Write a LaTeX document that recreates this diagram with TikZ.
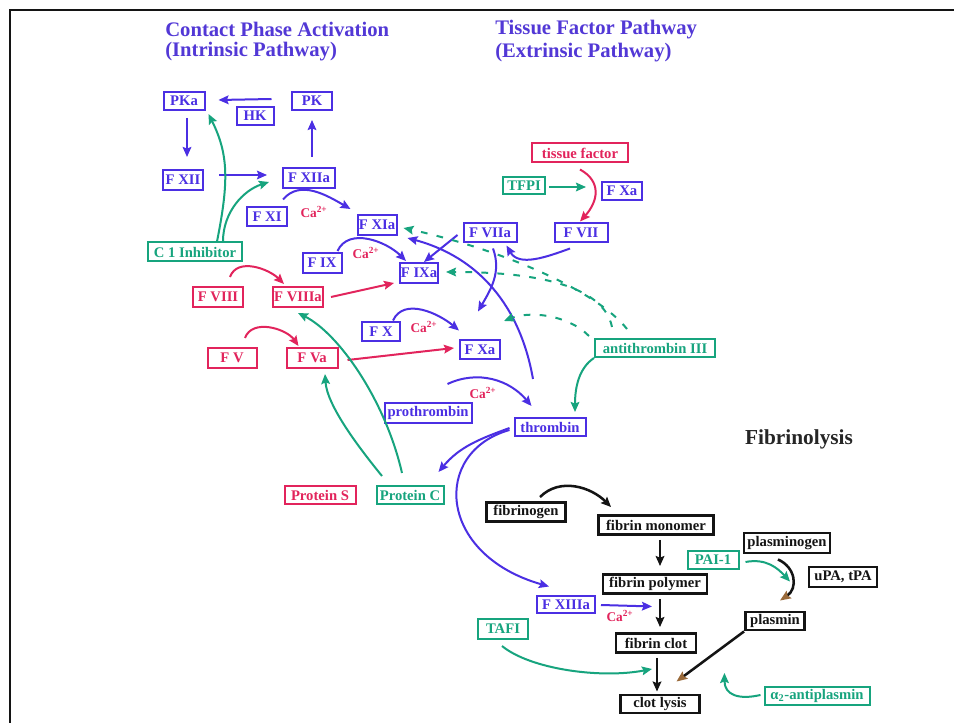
\documentclass[tikz,border=0pt]{standalone}
\usepackage{fontspec}
\setmainfont{Liberation Serif}
\usetikzlibrary{arrows.meta,calc}
\definecolor{cblue}{HTML}{4B2FE3}
\definecolor{ctitle}{HTML}{5238D6}
\definecolor{cred}{HTML}{E2245C}
\definecolor{cgreen}{HTML}{17A47E}
\definecolor{cblack}{HTML}{141414}
\definecolor{cbrown}{HTML}{9A6A3A}
\begin{document}
\begin{tikzpicture}[x=0.75pt,y=-0.75pt,
  box/.style={draw,line width=1.5pt,inner sep=0pt,minimum height=14.25pt,font=\fontsize{11}{12}\selectfont\bfseries},
  bw/.style={minimum width=#1*0.75pt},
  bh/.style={minimum height=#1*0.75pt},
  bluebox/.style={box,draw=cblue,text=cblue},
  redbox/.style={box,draw=cred,text=cred},
  greenbox/.style={box,draw=cgreen,text=cgreen},
  blackbox/.style={box,draw=cblack,text=cblack,line width=2.2pt},
  calabel/.style={inner sep=0pt,text=cred,font=\fontsize{10}{10}\selectfont\bfseries},
  title/.style={anchor=west,inner sep=0pt,text=ctitle,font=\fontsize{15.5}{15.5}\selectfont\bfseries},
  tipA/.style={-{Stealth[length=7.5pt,width=6.5pt,inset=1.2pt]}},
  barrow/.style={tipA,draw=cblue,line width=1.5pt},
  rarrow/.style={tipA,draw=cred,line width=1.5pt},
  garrow/.style={tipA,draw=cgreen,line width=1.5pt},
  gdash/.style={garrow,dash pattern=on 5pt off 7pt},
  karrow/.style={tipA,draw=cblack,line width=1.9pt},
  brarrow/.style={-{Stealth[length=8pt,width=6.5pt,inset=1.2pt,color=cbrown]},draw=cblack,line width=1.9pt}
]
\useasboundingbox (0,0) rectangle (954,723);
\fill[white] (0,0) rectangle (954,723);
\draw[cblack,line width=2pt] (954,10) -- (10,10) -- (10,723);

% titles
\node[title] (t1a) at (165,29) {Contact Phase Activation};
\node[title] (t1b) at (165,52) {(Intrinsic Pathway)};
\node[title] (t2a) at (495,30) {Tissue Factor Pathway};
\node[title] (t2b) at (495,53) {(Extrinsic Pathway)};
\node[inner sep=0pt,text=black!85,font=\fontsize{16}{16}\selectfont\bfseries] (fibrinolysis) at (799,439) {Fibrinolysis};

% blue nodes
\node[bluebox,bw=41,bh=18] (PKa) at (184,101) {PKa};
\node[bluebox,bw=37,bh=18] (HK) at (255,116) {HK};
\node[bluebox,bw=40,bh=18] (PK) at (312,101) {PK};
\node[bluebox,bw=40,bh=20] (FXII) at (183,180) {F XII};
\node[bluebox,bw=52,bh=20] (FXIIa) at (309,178) {F XIIa};
\node[bluebox,bw=40,bh=19] (FXI) at (267,217) {F XI};
\node[bluebox,bw=39,bh=20] (FXIa) at (377,225) {F XIa};
\node[bluebox,bw=39,bh=20] (FIX) at (322,263) {F IX};
\node[bluebox,bw=38,bh=20] (FIXa) at (419,273) {F IXa};
\node[bluebox,bw=53,bh=19] (FVIIa) at (490,233) {F VIIa};
\node[bluebox,bw=53,bh=19] (FVII) at (581,233) {F VII};
\node[bluebox,bw=40,bh=18] (FXae) at (622,191) {F Xa};
\node[bluebox,bw=38,bh=19] (FX) at (381,332) {F X};
\node[bluebox,bw=40,bh=19] (FXa) at (480,350) {F Xa};
\node[bluebox,bw=87,bh=20] (prothrombin) at (428,413) {prothrombin};
\node[bluebox,bw=71,bh=18] (thrombin) at (550,427) {thrombin};
\node[bluebox,bw=58,bh=17] (FXIIIa) at (566,605) {F XIIIa};

% red nodes
\node[redbox,bw=96,bh=19] (tf) at (580,153) {tissue factor};
\node[redbox,bw=50,bh=20] (FVIII) at (218,297) {F VIII};
\node[redbox,bw=50,bh=20] (FVIIIa) at (298,297) {F VIIIa};
\node[redbox,bw=49,bh=20] (FV) at (232,358) {F V};
\node[redbox,bw=51,bh=20] (FVa) at (312,358) {F Va};
\node[redbox,bw=71,bh=18] (ProteinS) at (320,495) {Protein S};

% green nodes
\node[greenbox,bw=42,bh=17] (TFPI) at (524,186) {TFPI};
\node[greenbox,bw=94,bh=19] (C1) at (195,252) {C 1 Inhibitor};
\node[greenbox,bw=120,bh=18] (AT) at (655,348) {antithrombin III};
\node[greenbox,bw=67,bh=18] (ProteinC) at (410,495) {Protein C};
\node[greenbox,bw=50,bh=20] (TAFI) at (503,629) {TAFI};
\node[greenbox,bw=51,bh=18] (PAI) at (713,560) {PAI-1};
\node[greenbox,bw=105,bh=18] (alpha) at (817,696) {α\textsubscript{2}-antiplasmin};

% black nodes
\node[blackbox,bw=79,bh=19] (fibrinogen) at (526,512) {fibrinogen};
\node[blackbox,bw=115,bh=19] (fibrinmonomer) at (656,525) {fibrin monomer};
\node[blackbox,bw=86,bh=20] (plasminogen) at (787,543) {plasminogen};
\node[blackbox,bw=68,bh=20] (uPA) at (843,577) {uPA, tPA};
\node[blackbox,bw=104,bh=19] (fibrinpolymer) at (655,584) {fibrin polymer};
\node[blackbox,bw=59,bh=18] (plasmin) at (775,621) {plasmin};
\node[blackbox,bw=80,bh=19] (fibrinclot) at (656,643) {fibrin clot};
\node[blackbox,bw=79,bh=18] (clotlysis) at (660,704) {clot lysis};

% Ca labels
\node[calabel] (ca1) at (314,212) {Ca\textsuperscript{2+}};
\node[calabel] (ca2) at (366,253) {Ca\textsuperscript{2+}};
\node[calabel] (ca3) at (424,327) {Ca\textsuperscript{2+}};
\node[calabel] (ca4) at (483,393) {Ca\textsuperscript{2+}};
\node[calabel] (ca5) at (620,616) {Ca\textsuperscript{2+}};

% blue connectors
\draw[barrow] ($(HK.north east)+(-3,-7)$) -- ($(PKa.east)+(13,-1)$);
\draw[barrow] ($(PKa.south)+(3,7)$) -- ($(FXII.north)+(4,-12)$);
\draw[barrow] ($(FXII.east)+(15,-5)$) -- ($(FXIIa.west)+(-15,-3)$);
\draw[barrow] ($(FXIIa.north)+(3,-10)$) -- ($(PK.south)+(0,9)$);
\draw[barrow] ($(FXI.north east)+(-5,-7)$) to[out=50,in=150] ($(FXIa.north west)+(-6,-5)$);
\draw[barrow] ($(FIX.north east)+(-5,-1)$) to[out=65,in=135] ($(FIXa.north west)+(7,-1)$);
\draw[barrow] ($(FX.north east)+(-8,-1)$) to[out=65,in=140] ($(FXa.north west)+(0,-9)$);
\draw[barrow] ($(prothrombin.north east)+(-25,-18)$) to[out=25,in=130] ($(thrombin.north west)+(18,-11)$);
\draw[barrow] ($(FVII.south)+(-11,5)$) to[out=200,in=-60] ($(FVIIa.south east)+(-11,2)$);
\draw[barrow] ($(FVIIa.west)+(-5,2)$) -- ($(FIXa.north east)+(-15,0)$);
\draw[barrow] ($(FVIIa.south)+(3,5)$) to[out=-70,in=60] ($(FXa.north)+(-2,-28)$);
\draw[barrow] ($(thrombin.north)+(-17,-38)$) to[out=100,in=-15] ($(FXIa.south east)+(10,2)$);
\draw[barrow] ($(thrombin.west)+(-4,1)$) to[out=200,in=50] ($(ProteinC.north east)+(-6,-13)$);
\draw[barrow] ($(thrombin.west)+(-4,3)$) .. controls +(-78,22) and +(-112,-32) .. ($(FXIIIa.north west)+(13,-9)$);
\draw[barrow] ($(FXIIIa.east)+(5,0)$) -- ($(fibrinpolymer.south)+(-3,11.5)$);

% red connectors
\draw[rarrow] ($(tf.south)+(0,6)$) .. controls +(22,12) and +(18,-20) .. ($(FVII.north)+(-1,-1)$);
\draw[rarrow] ($(FVIII.north)+(12,-9)$) to[out=70,in=135] ($(FVIIIa.north west)+(12,-2)$);
\draw[rarrow] ($(FVIIIa.east)+(7,0)$) -- ($(FIXa.west)+(-5,10)$);
\draw[rarrow] ($(FV.north)+(13,-9)$) to[out=70,in=125] ($(FVa.north west)+(13,-1)$);
\draw[rarrow] ($(FVa.east)+(9,2)$) -- ($(FXa.west)+(-5,-2)$);

% green connectors
\draw[garrow] ($(TFPI.east)+(3,1)$) -- ($(FXae.west)+(-15,-4)$);
\draw[garrow] ($(C1.north)+(22,0)$) .. controls +(12,-60) and +(20,40) .. ($(PKa.south east)+(3,3)$);
\draw[garrow] ($(C1.north)+(28,0)$) .. controls +(0,-30) and +(-25,8) .. ($(FXIIa.west)+(-13,4)$);
\draw[garrow] ($(ProteinC.north)+(-8,-12)$) .. controls +(-17,-74) and +(40,20) .. ($(FVIIIa.south)+(0,5)$);
\draw[garrow] ($(ProteinC.north)+(-28,-9)$) .. controls +(-22,-27) and +(2,32) .. ($(FVa.south)+(13,5)$);
\draw[garrow] (AT.south west) .. controls +(-15,10) and +(0,-25) .. ($(thrombin.north)+(25,-5)$);
\draw[gdash] ($(AT.north)+(-28,-9)$) .. controls +(-30,-38) and +(100,22) .. ($(FXIa.east)+(6,3)$);
\draw[gdash] ($(AT.north)+(-43,-11)$) .. controls +(-10,-50) and +(60,0) .. ($(FIXa.east)+(7,-1)$);
\draw[gdash] ($(AT.north west)+(-5,-2)$) .. controls +(-22,-22) and +(25,-10) .. ($(FXa.north east)+(3,-18.5)$);
\draw[garrow] ($(TAFI.south)+(-1,6)$) .. controls +(28,23) and +(-52,10) .. ($(fibrinclot.south)+(-4,15)$);
\draw[garrow] ($(PAI.east)+(6,2)$) .. controls +(21,-4) and +(-12,-13) .. ($(plasmin.north)+(15,-29)$);
\draw[garrow] ($(alpha.west)+(-3,-1)$) .. controls +(-22,5) and +(0,22) .. ($(clotlysis.east)+(23.5,-31)$);

% black connectors
\draw[karrow] ($(fibrinogen.north)+(14,-4)$) .. controls +(20,-20) and +(-20,-20) .. ($(fibrinmonomer.north west)+(14,-7)$);
\draw[karrow] ($(fibrinmonomer.south)+(4,4)$) -- ($(fibrinpolymer.north)+(5,-7)$);
\draw[karrow] ($(fibrinpolymer.south)+(5,4)$) -- ($(fibrinclot.north)+(4,-5)$);
\draw[karrow] ($(fibrinclot.south)+(1,4)$) -- ($(clotlysis.north)+(-3,-2)$);
\draw[brarrow] ($(plasminogen.south)+(-9,5)$) .. controls +(18,8) and +(18,-12) .. ($(plasmin.north)+(5,-10)$);
\draw[brarrow] (plasmin.south west) -- ($(clotlysis.north east)+(-24.5,-12)$);
\end{tikzpicture}
\end{document}
